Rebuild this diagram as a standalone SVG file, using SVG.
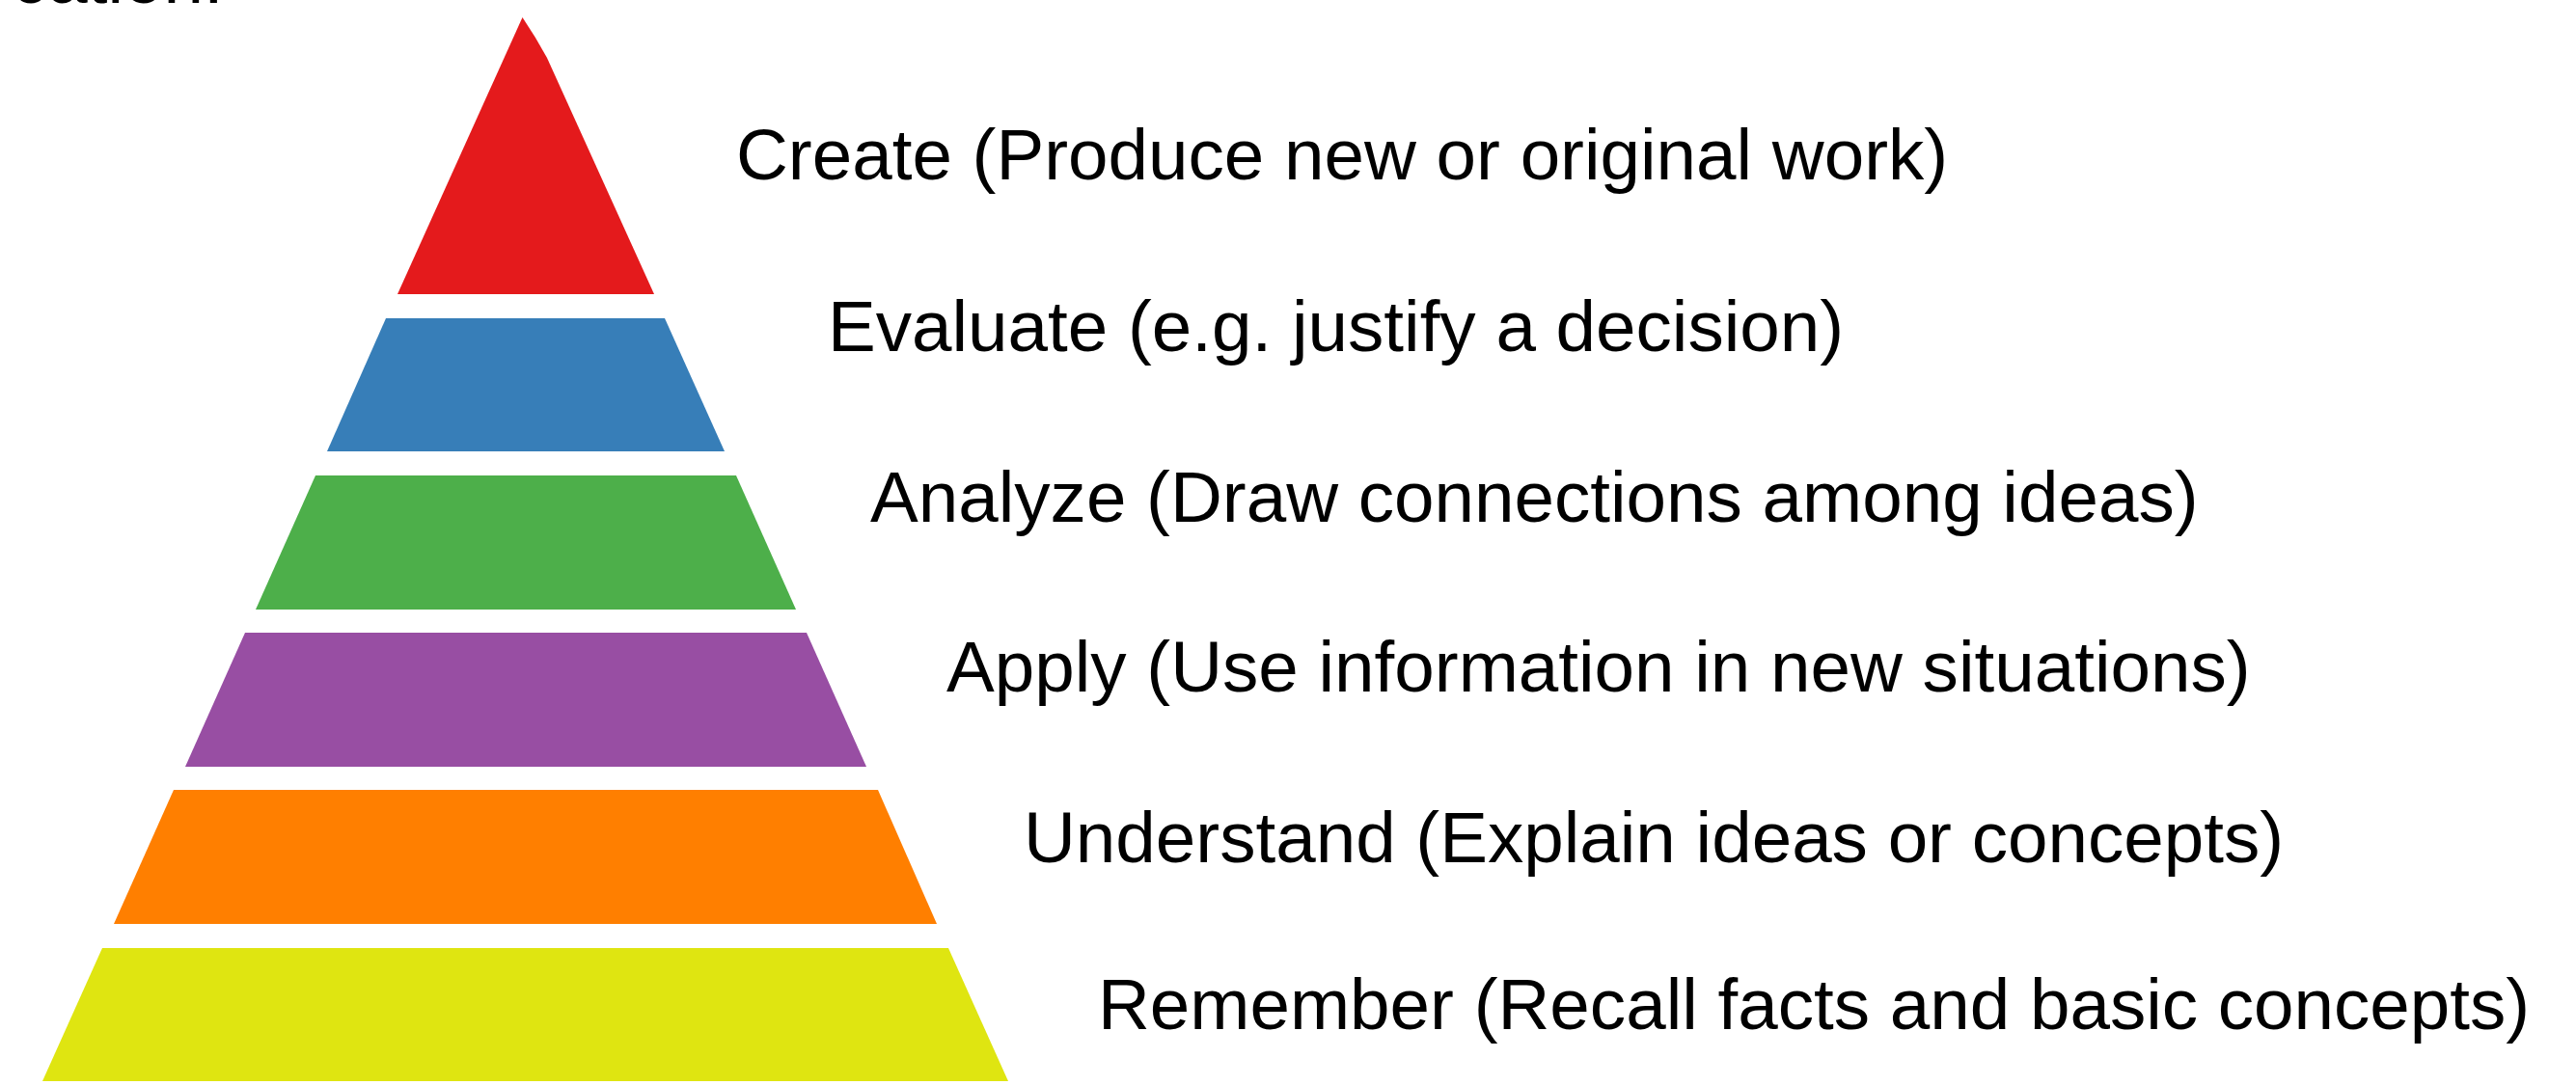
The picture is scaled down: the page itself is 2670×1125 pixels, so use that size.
<svg xmlns="http://www.w3.org/2000/svg" width="2670" height="1125" viewBox="0 0 2670 1125">
<style>
text { font-family: "Liberation Sans", Arial, sans-serif; font-size: 74.6px; fill: #000000; }
</style>
<rect width="2670" height="1125" fill="#ffffff"/>
<text x="12" y="3">cation:</text>
<g id="create">
<path d="M541.5,18 Q555,38 567,60 L678,305 L412,305 Z" fill="#E41A1C"/>
<text x="763" y="186">Create (Produce new or original work)</text>
</g>
<g id="evaluate">
<polygon points="400,330 689,330 751,468 339,468" fill="#377EB8"/>
<text x="858" y="364">Evaluate (e.g. justify a decision)</text>
</g>
<g id="analyze">
<polygon points="327,493 763,493 825,632 265,632" fill="#4DAF4A"/>
<text x="902" y="541">Analyze (Draw connections among ideas)</text>
</g>
<g id="apply">
<polygon points="254,656 836,656 898,795 192,795" fill="#984EA3"/>
<text x="981" y="717">Apply (Use information in new situations)</text>
</g>
<g id="understand">
<polygon points="180,819 910,819 971,958 118,958" fill="#FF7F00"/>
<text x="1061" y="894">Understand (Explain ideas or concepts)</text>
</g>
<g id="remember">
<polygon points="106,983 983,983 1045,1121 44,1121" fill="#DFE511"/>
<text x="1138" y="1067">Remember (Recall facts and basic concepts)</text>
</g>
<g id="connectors"></g>
</svg>
